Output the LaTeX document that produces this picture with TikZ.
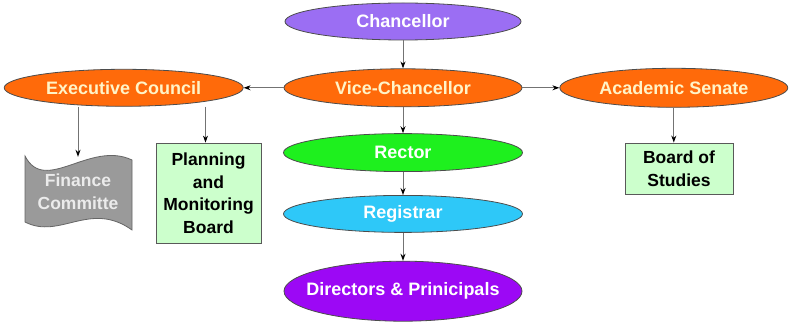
\documentclass[tikz,border=0pt]{standalone}
\usepackage{fontspec}
\setmainfont{Liberation Sans}
\usetikzlibrary{arrows.meta,positioning,shapes.geometric}
\definecolor{cPurple}{HTML}{9B6EF3}
\definecolor{cOrange}{HTML}{FF6A0A}
\definecolor{cGreen}{HTML}{1EF01E}
\definecolor{cCyan}{HTML}{2EC8F8}
\definecolor{cViolet}{HTML}{9C08F5}
\definecolor{cBox}{HTML}{CCFFCC}
\definecolor{cGray}{HTML}{9A9A9A}
\definecolor{cCream}{HTML}{FFF4C8}
\tikzset{
  >=Stealth,
  role/.style ={ellipse,draw=black!70,line width=0.8pt,inner sep=0pt,align=center,
                font=\fontsize{18}{22}\selectfont\bfseries,minimum width=236pt,minimum height=37pt},
  board/.style={rectangle,draw=black!65,line width=0.8pt,fill=cBox,align=center,inner sep=0pt,
                font=\fontsize{17.5}{22.5}\selectfont\bfseries},
  link/.style ={-{Stealth[length=7pt,width=5pt,black]},draw=black!55,line width=1pt},
}
\begin{document}
\begin{tikzpicture}[x=1pt,y=-1pt]
  \useasboundingbox (0,0) rectangle (793,323);
  \node[role,fill=cPurple,text=white] (chan) at (403,21.5) {Chancellor};
  \node[role,fill=cOrange,text=cCream,minimum width=238pt,minimum height=38pt,below=28pt of chan] (vc) {Vice-Chancellor};
  \node[role,fill=cGreen,text=white,minimum width=239pt,minimum height=38pt,below=26pt of vc] (rect) {Rector};
  \node[role,fill=cCyan,text=white,minimum width=239pt,below=23pt of rect] (reg) {Registrar};
  \node[role,fill=cViolet,text=white,minimum width=238pt,minimum height=60pt,below=28pt of reg] (dir) {\makebox[0pt]{Directors \& Prinicipals}};
  \node[role,fill=cOrange,text=cCream,minimum width=239pt,left=40pt of vc] (ec) {Executive Council};
  \node[role,fill=cOrange,text=cCream,minimum width=228pt,minimum height=39pt,right=37pt of vc] (as) {Academic Senate};
  % wave shaped committee
  \filldraw[fill=cGray,draw=black!60,line width=0.8pt]
    (25,156) .. controls (45,195) and (90,140) .. (132,160) -- (132,230)
    .. controls (90,200) and (60,240) .. (25,222) -- cycle;
  \node[align=center,text=white!92!black,font=\fontsize{17.5}{23}\selectfont\bfseries,
        minimum width=107pt,minimum height=70pt,inner sep=0pt] (fin) at (78,192) {Finance\\Committe};
  \node[board,minimum width=105pt,minimum height=100pt] (pmb) at (208.5,193) {Planning\\and\\Monitoring\\Board};
  \node[board,minimum width=108pt,minimum height=51pt] (bos) at (679,168.5) {Board of\\Studies};
  \draw[link] (chan) -- (vc);
  \draw[link] (vc) -- (rect);
  \draw[link] (rect) -- (reg);
  \draw[link] (reg) -- (dir);
  \draw[link] (vc) -- (ec);
  \draw[link] (vc) -- (as);
  \draw[link] (fin.north |- ec.south) -- (fin.north);
  \draw[link] ([xshift=-3pt]pmb.north |- ec.south) -- ([xshift=-3pt]pmb.north);
  \draw[link] (as.south) -- (as.south |- bos.north);
\end{tikzpicture}
\end{document}
